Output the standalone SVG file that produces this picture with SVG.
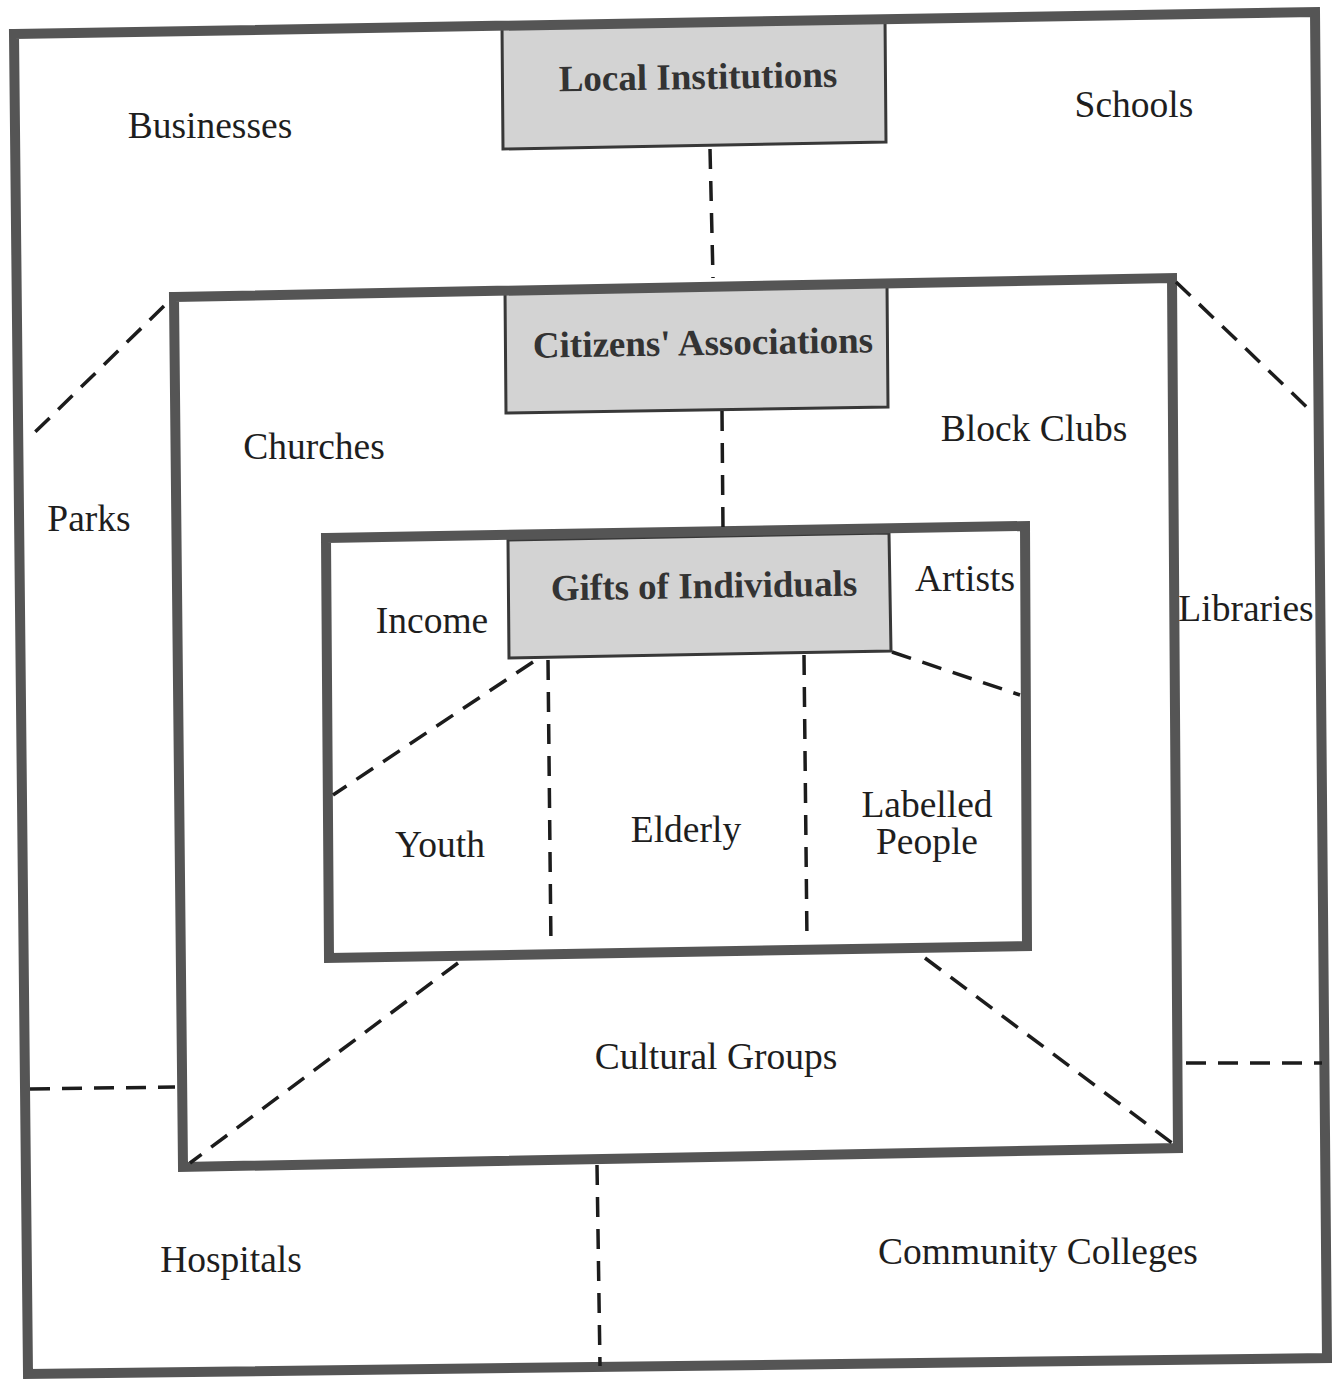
<svg xmlns="http://www.w3.org/2000/svg" width="1332" height="1381" viewBox="0 0 1332 1381">
<style>
.frame{fill:none;stroke:#555;stroke-width:10;stroke-linejoin:miter}
.gbox{fill:#d3d3d3;stroke:#383838;stroke-width:3}
.dash{stroke:#1c1c1c;stroke-width:3.5;stroke-dasharray:20 12;fill:none}
text{font-family:"Liberation Serif","Times New Roman",serif;font-size:37.5px;fill:#1e1e1e;text-anchor:middle}
.b{font-weight:bold;fill:#333;font-size:37px}
</style>
<rect width="1332" height="1381" fill="#fff"/>
<g id="boxes-gray">
<g id="local-institutions">
<polygon class="gbox" points="502,25 885,17 886,142 503,149"/>
<text class="b" x="698" y="89" transform="rotate(-0.9 698 78)">Local Institutions</text>
</g>
<g id="citizens-associations">
<polygon class="gbox" points="505,290 887,284 888,407 506,413"/>
<text class="b" x="703" y="355" transform="rotate(-0.9 703 343)">Citizens' Associations</text>
</g>
<g id="gifts-of-individuals">
<polygon class="gbox" points="508,540 889,533 891,651 509,658"/>
<text class="b" x="704" y="598" transform="rotate(-0.9 704 587)">Gifts of Individuals</text>
</g>
</g>
<g id="frames">
<polygon id="outer-frame" class="frame" points="14,34 1315,12 1327,1358 28,1374"/>
<polygon id="middle-frame" class="frame" points="174,297 1172,278 1178,1148 183,1167"/>
<polygon id="inner-frame" class="frame" points="326,538 1025,526 1027,946 329,958"/>
</g>
<g id="connectors">
<line class="dash" x1="710" y1="149" x2="713" y2="278"/>
<line class="dash" x1="722" y1="411" x2="723" y2="530"/>
<line class="dash" x1="164" y1="306" x2="27" y2="440"/>
<line class="dash" x1="1176" y1="282" x2="1313" y2="413"/>
<line class="dash" x1="30" y1="1089" x2="175" y2="1087"/>
<line class="dash" x1="1186" y1="1063" x2="1322" y2="1063"/>
<line class="dash" x1="597" y1="1165" x2="600" y2="1366"/>
<line class="dash" x1="533" y1="662" x2="333" y2="795"/>
<line class="dash" x1="548" y1="660" x2="551" y2="948"/>
<line class="dash" x1="804" y1="655" x2="807" y2="942"/>
<line class="dash" x1="892" y1="652" x2="1020" y2="695"/>
<line class="dash" x1="458" y1="963" x2="190" y2="1163"/>
<line class="dash" x1="925" y1="958" x2="1172" y2="1143"/>
</g>
<g id="labels">
<g id="businesses"><text x="210" y="138">Businesses</text></g>
<g id="schools"><text x="1134" y="117">Schools</text></g>
<g id="churches"><text x="314" y="459">Churches</text></g>
<g id="block-clubs"><text x="1034" y="441">Block Clubs</text></g>
<g id="parks"><text x="89" y="531">Parks</text></g>
<g id="libraries"><text x="1246" y="621">Libraries</text></g>
<g id="income"><text x="432" y="633">Income</text></g>
<g id="artists"><text x="965" y="591">Artists</text></g>
<g id="youth"><text x="440" y="857">Youth</text></g>
<g id="elderly"><text x="686" y="842">Elderly</text></g>
<g id="labelled-people"><text x="927" y="817">Labelled</text><text x="927" y="854">People</text></g>
<g id="cultural-groups"><text x="716" y="1069">Cultural Groups</text></g>
<g id="hospitals"><text x="231" y="1272">Hospitals</text></g>
<g id="community-colleges"><text x="1038" y="1264">Community Colleges</text></g>
</g>
</svg>
